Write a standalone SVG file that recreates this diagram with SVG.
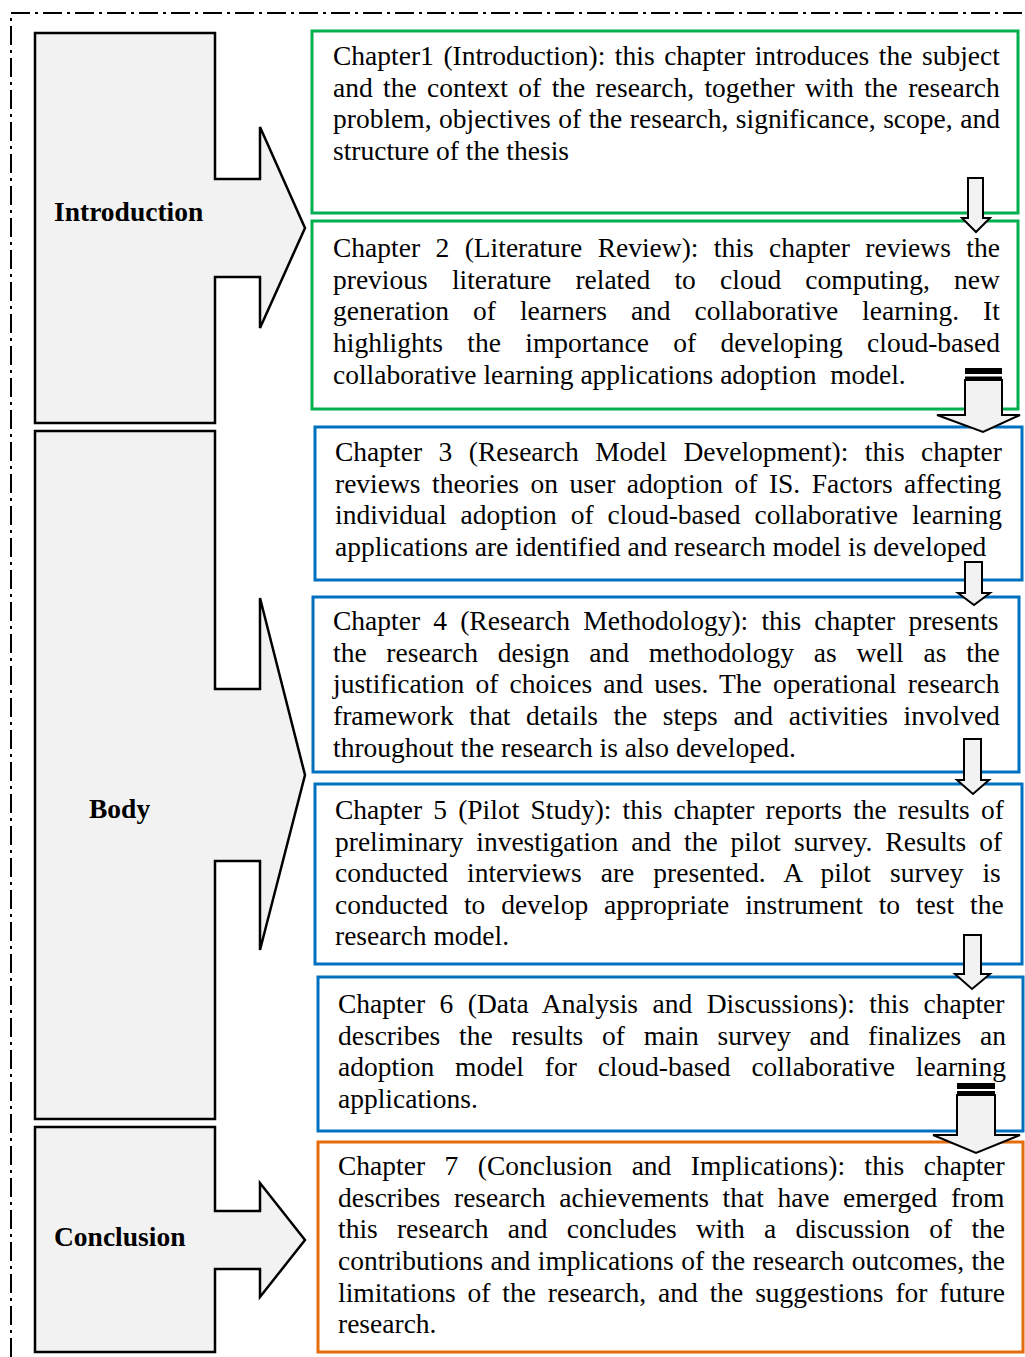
<svg xmlns="http://www.w3.org/2000/svg" width="1025" height="1357" viewBox="0 0 1025 1357">
<style>
.t{font-family:"Liberation Serif","Times New Roman",serif;font-size:27.5px;fill:#000}
.lbl{font-family:"Liberation Serif","Times New Roman",serif;font-size:27.5px;font-weight:bold;fill:#000}
.callout{fill:#f2f2f2;stroke:#000;stroke-width:2.5;stroke-linejoin:miter}
.box{fill:#fff;stroke-width:3}
.g{stroke:#00b050}
.b{stroke:#0070c0}
.o{stroke:#e46c0a}
.arr{fill:#f2f2f2;stroke:#000;stroke-width:2;stroke-linejoin:miter}
.stripe{fill:#000}
</style>
<rect width="1025" height="1357" fill="#fff"/>
<path d="M11,1357 V13 H1025" fill="none" stroke="#000" stroke-width="2" stroke-dasharray="19 5 3 5"/>

<g id="introduction">
<polygon class="callout" points="35,33 215,33 215,179 260,179 260,127 305,228 260,328 260,277 215,277 215,423 35,423"/>
<text class="lbl" x="54" y="221">Introduction</text>
</g>
<g id="body">
<polygon class="callout" points="35,431 215,431 215,689 260,689 260,598 305,775 260,950 260,861 215,861 215,1119 35,1119"/>
<text class="lbl" x="89" y="818">Body</text>
</g>
<g id="conclusion">
<polygon class="callout" points="35,1127 215,1127 215,1211 260,1211 260,1183 305,1240 260,1297 260,1269 215,1269 215,1352 35,1352"/>
<text class="lbl" x="54" y="1246">Conclusion</text>
</g>

<g id="chapter1">
<rect class="box g" x="312" y="31" width="706" height="182"/>
<text class="t" x="333" y="65" word-spacing="2.7">Chapter1 (Introduction): this chapter introduces the subject</text>
<text class="t" x="333" y="97" word-spacing="3.5">and the context of the research, together with the research</text>
<text class="t" x="333" y="128" word-spacing="0.7">problem, objectives of the research, significance, scope, and</text>
<text class="t" x="333" y="160">structure of the thesis</text>
</g>
<g id="chapter2">
<rect class="box g" x="312" y="221" width="706" height="188"/>
<text class="t" x="333" y="257" word-spacing="8.55">Chapter 2 (Literature Review): this chapter reviews the</text>
<text class="t" x="333" y="289" word-spacing="17.35">previous literature related to cloud computing, new</text>
<text class="t" x="333" y="320" word-spacing="17.1">generation of learners and collaborative learning. It</text>
<text class="t" x="333" y="352" word-spacing="17.45">highlights the importance of developing cloud-based</text>
<text class="t" x="333" y="384" xml:space="preserve">collaborative learning applications adoption  model.</text>
</g>
<g id="chapter3">
<rect class="box b" x="315" y="427" width="707" height="153"/>
<text class="t" x="335" y="461" word-spacing="9.6">Chapter 3 (Research Model Development): this chapter</text>
<text class="t" x="335" y="493" word-spacing="4.6">reviews theories on user adoption of IS. Factors affecting</text>
<text class="t" x="335" y="524" word-spacing="7.1">individual adoption of cloud-based collaborative learning</text>
<text class="t" x="335" y="556">applications are identified and research model is developed</text>
</g>
<g id="chapter4">
<rect class="box b" x="313" y="597" width="706" height="175"/>
<text class="t" x="333" y="630" word-spacing="6.3">Chapter 4 (Research Methodology): this chapter presents</text>
<text class="t" x="333" y="662" word-spacing="12.9">the research design and methodology as well as the</text>
<text class="t" x="333" y="693" word-spacing="4.3">justification of choices and uses. The operational research</text>
<text class="t" x="333" y="725" word-spacing="8.75">framework that details the steps and activities involved</text>
<text class="t" x="333" y="757">throughout the research is also developed.</text>
</g>
<g id="chapter5">
<rect class="box b" x="315" y="784" width="707" height="180"/>
<text class="t" x="335" y="819" word-spacing="4.3">Chapter 5 (Pilot Study): this chapter reports the results of</text>
<text class="t" x="335" y="851" word-spacing="6.1">preliminary investigation and the pilot survey. Results of</text>
<text class="t" x="335" y="882" word-spacing="12.2">conducted interviews are presented. A pilot survey is</text>
<text class="t" x="335" y="914" word-spacing="9.0">conducted to develop appropriate instrument to test the</text>
<text class="t" x="335" y="945">research model.</text>
</g>
<g id="chapter6">
<rect class="box b" x="318" y="977" width="705" height="154"/>
<text class="t" x="338" y="1013" word-spacing="7.6">Chapter 6 (Data Analysis and Discussions): this chapter</text>
<text class="t" x="338" y="1045" word-spacing="11.9">describes the results of main survey and finalizes an</text>
<text class="t" x="338" y="1076" word-spacing="14.0">adoption model for cloud-based collaborative learning</text>
<text class="t" x="338" y="1108">applications.</text>
</g>
<g id="chapter7">
<rect class="box o" x="318" y="1142" width="705" height="210"/>
<text class="t" x="338" y="1175" word-spacing="12.6">Chapter 7 (Conclusion and Implications): this chapter</text>
<text class="t" x="338" y="1207" word-spacing="6.8">describes research achievements that have emerged from</text>
<text class="t" x="338" y="1238" word-spacing="12.35">this research and concludes with a discussion of the</text>
<text class="t" x="338" y="1270" word-spacing="0.6">contributions and implications of the research outcomes, the</text>
<text class="t" x="338" y="1302" word-spacing="5.0">limitations of the research, and the suggestions for future</text>
<text class="t" x="338" y="1333">research.</text>
</g>

<g id="connectors">
<polygon class="arr" points="968,178 983,178 983,218 990,218 976,232 962,218 968,218"/>
<rect class="stripe" x="965" y="368" width="37" height="6"/>
<rect class="stripe" x="965" y="376.5" width="37" height="3"/>
<polygon class="arr" points="965,380 1002,380 1002,415 1020,415 983,432 937,415 965,415"/>
<polygon class="arr" points="965,562 982,562 982,593 990,593 974,605 958,593 965,593"/>
<polygon class="arr" points="964,739 981,739 981,780 989,780 973,794 957,780 964,780"/>
<polygon class="arr" points="964,935 981,935 981,974 990,974 972,989 955,974 964,974"/>
<rect class="stripe" x="957" y="1083" width="38" height="6"/>
<rect class="stripe" x="957" y="1091" width="38" height="3"/>
<polygon class="arr" points="957,1095 995,1095 995,1135 1020,1135 976,1153 933,1135 957,1135"/>
</g>
</svg>
